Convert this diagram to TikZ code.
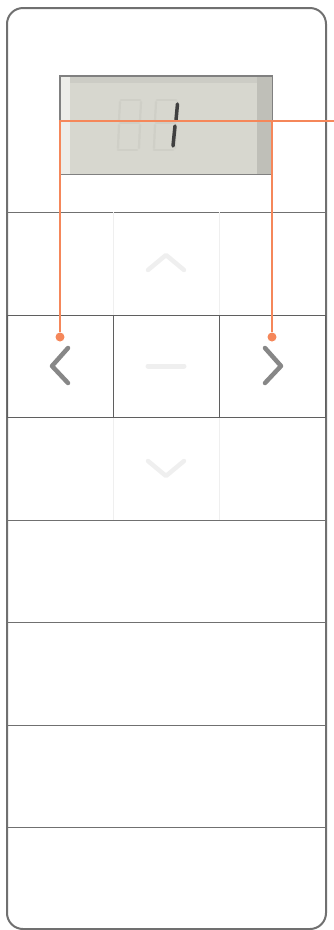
\documentclass[tikz,border=0pt]{standalone}
\usetikzlibrary{positioning}
\definecolor{callout}{HTML}{F5875A}
\definecolor{rim}{HTML}{707070}
\definecolor{lcd}{HTML}{D7D7CF}
\definecolor{chev}{HTML}{878787}
\definecolor{faint}{HTML}{EFEFEF}
\definecolor{ghost}{HTML}{CFCFC7}
\tikzset{key/.style = {draw=rim!85!black, line width=0.8pt, minimum width=106,
                       minimum height=102, inner sep=0, outer sep=0}}
\tikzset{pin/.style = {fill=callout, circle, inner sep=0, minimum size=9}}
\tikzset{chevron/.style = {line width=4.5pt, line cap=round, line join=round}}
\tikzset{segment/.style = {line width=2.2pt, line cap=round, color=ghost}}

\begin{document}
\begin{tikzpicture}[x=1pt,y=-1pt]
    \useasboundingbox (0,0) rectangle (334,930);
    % housing
    \draw[rim, line width=2pt, rounded corners=16] (7,8) rectangle (326,929);
    % display
    \node[draw=gray, fill=lcd, line width=1pt, minimum width=212,
          minimum height=98, inner sep=0] (lcd) at (166,125) {};
    \fill[lcd!89!black] (257,76.5) rectangle (271.5,173.5);
    \fill[lcd!95!black] (60.5,76.5) rectangle (257,83);
    \fill[white!55!lcd] (60.5,76.5) rectangle (70,173.5);
    \draw[gray, line width=1pt] (lcd.north west) rectangle (lcd.south east);
    \foreach \x in {117,153} {
      \draw[segment] (\x+4,100) -- (\x+23,100);
      \draw[segment] (\x+3,123) -- (\x+22,123);
      \draw[segment] (\x+1,150) -- (\x+20,150);
      \draw[segment] (\x+3,102) -- (\x+2,121);
      \draw[segment] (\x+2,125) -- (\x+1,148);
      \draw[segment] (\x+24,102) -- (\x+23,121);
      \draw[segment] (\x+23,125) -- (\x+22,148);
    }
    \draw[line width=3.5pt, line cap=round, color=black!75]
      (177.5,104) -- (176,120) (175,126) -- (173,146);
    % keypad
    \foreach \y in {212,520,622,725,827}
      \draw[rim, line width=0.9pt] (7,\y) -- (326,\y);
    \foreach \x in {113,219} {
      \draw[faint, line width=1pt] (\x,212) -- (\x,315);
      \draw[faint, line width=1pt] (\x,417) -- (\x,520);
    }
    \node[key] (keyL) at (60,366) {};
    \node[key] (keyC) at (166,366) {};
    \node[key] (keyR) at (272,366) {};
    \draw[chevron, chev] (68,348) -- (52,366) -- (68,383);
    \draw[chevron, chev] (265,348) -- (281,366) -- (265,383);
    \draw[chevron, faint, line width=5pt] (148,366) -- (184,366);
    \draw[chevron, faint] (148,270) -- (166,255) -- (184,270);
    \draw[chevron, faint] (148,461) -- (166,476) -- (184,461);
    % callout
    \node[pin] (pinL) at (60,337) {};
    \node[pin] (pinR) at (272,337) {};
    \coordinate (lead) at (334,121);
    \draw[callout, line width=2.2pt] (lead) -| (pinL);
    \draw[callout, line width=2.2pt] (pinR |- lead) -- (pinR);
\end{tikzpicture}
\end{document}
